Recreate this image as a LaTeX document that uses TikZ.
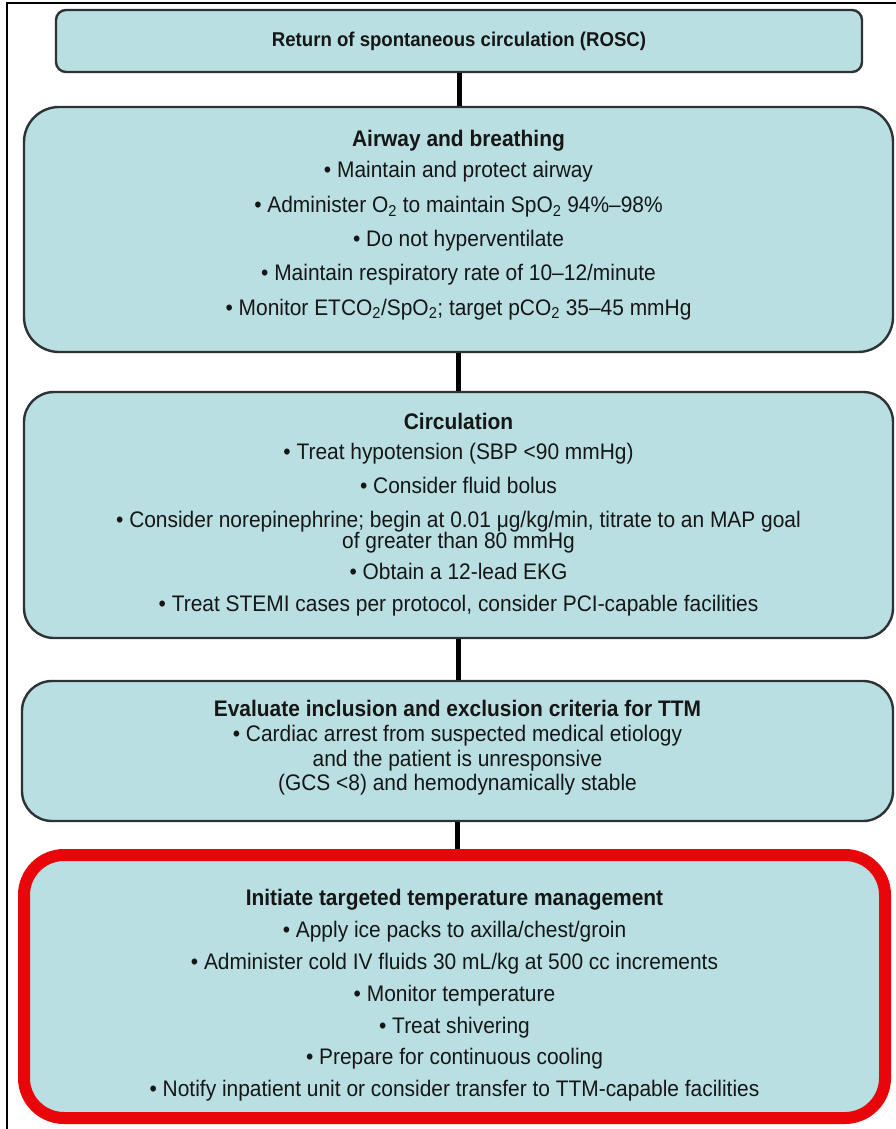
\documentclass[tikz,border=0pt]{standalone}
\usepackage{fontspec}
\setmainfont{Liberation Sans}[FakeStretch=0.93]
\definecolor{boxfill}{RGB}{185,223,227}
\definecolor{boxline}{RGB}{45,50,52}
\definecolor{alertred}{RGB}{232,6,10}
\definecolor{txtcol}{RGB}{22,22,22}
\begin{document}
\begin{tikzpicture}[x=1pt,y=-1pt,
  box/.style={draw=boxline, line width=2.4pt, fill=boxfill, rounded corners=#1, inner sep=0pt},
  redbox/.style={draw=alertred, line width=12pt, fill=boxfill, rounded corners=#1, inner sep=0pt},
  txt/.style={align=center, text=txtcol, inner sep=0pt},
  conn/.style={draw=black, line width=5pt}]
\useasboundingbox (0,0) rectangle (896,1129);
\draw[line width=2pt] (7,1129) -- (7,3) -- (896,3);

% boxes
\node[box=10pt, minimum width=806pt, minimum height=62pt] (b1) at (459,41) {};
\node[box=35pt, minimum width=869pt, minimum height=245pt] (b2) at (458.5,229.5) {};
\node[box=30pt, minimum width=869pt, minimum height=246pt] (b3) at (458.5,515) {};
\node[box=30pt, minimum width=871pt, minimum height=140pt] (b4) at (457.5,751) {};
\node[redbox=40pt, minimum width=861pt, minimum height=263pt] (b5) at (454.5,986.5) {};

% connectors
\draw[conn] (b1.south) -- (b1.south |- b2.north);
\draw[conn] (b2.south) -- (b2.south |- b3.north);
\draw[conn] (b3.south) -- (b3.south |- b4.north);
\draw[conn] (b4.south) -- (b4.south |- b5.north);

% texts
\node[txt, font=\fontsize{20}{24}\selectfont\bfseries] (t1) at (459,41)
  {Return of spontaneous circulation (ROSC)};

\node[txt, font=\fontsize{22.5}{34.3}\selectfont] (t2) at (458.5,225)
  {\textbf{Airway and breathing}\\[-3pt]
   • Maintain and protect airway\\
   • Administer O\textsubscript{2} to maintain SpO\textsubscript{2} 94\%–98\%\\
   • Do not hyperventilate\\
   • Maintain respiratory rate of 10–12/minute\\
   • Monitor ETCO\textsubscript{2}/SpO\textsubscript{2}; target pCO\textsubscript{2} 35–45 mmHg};

\node[txt, font=\fontsize{22.5}{21}\selectfont] (t3) at (458.5,515)
  {\textbf{Circulation}\\[9pt]
   • Treat hypotension (SBP <90 mmHg)\\[13pt]
   • Consider fluid bolus\\[13pt]
   • Consider norepinephrine; begin at 0.01 μg/kg/min, titrate to an MAP goal\\
   of greater than 80 mmHg\\[10pt]
   • Obtain a 12-lead EKG\\[11pt]
   • Treat STEMI cases per protocol, consider PCI-capable facilities};

\node[txt, font=\fontsize{22.5}{24.7}\selectfont] (t4) at (457.5,748)
  {\textbf{Evaluate inclusion and exclusion criteria for TTM}\\
   • Cardiac arrest from suspected medical etiology\\
   and the patient is unresponsive\\
   (GCS <8) and hemodynamically stable};

\node[txt, font=\fontsize{22.5}{31.8}\selectfont] (t5) at (454.5,995.5)
  {\textbf{Initiate targeted temperature management}\\
   • Apply ice packs to axilla/chest/groin\\
   • Administer cold IV fluids 30 mL/kg at 500 cc increments\\
   • Monitor temperature\\
   • Treat shivering\\
   • Prepare for continuous cooling\\
   • Notify inpatient unit or consider transfer to TTM-capable facilities};
\end{tikzpicture}
\end{document}
